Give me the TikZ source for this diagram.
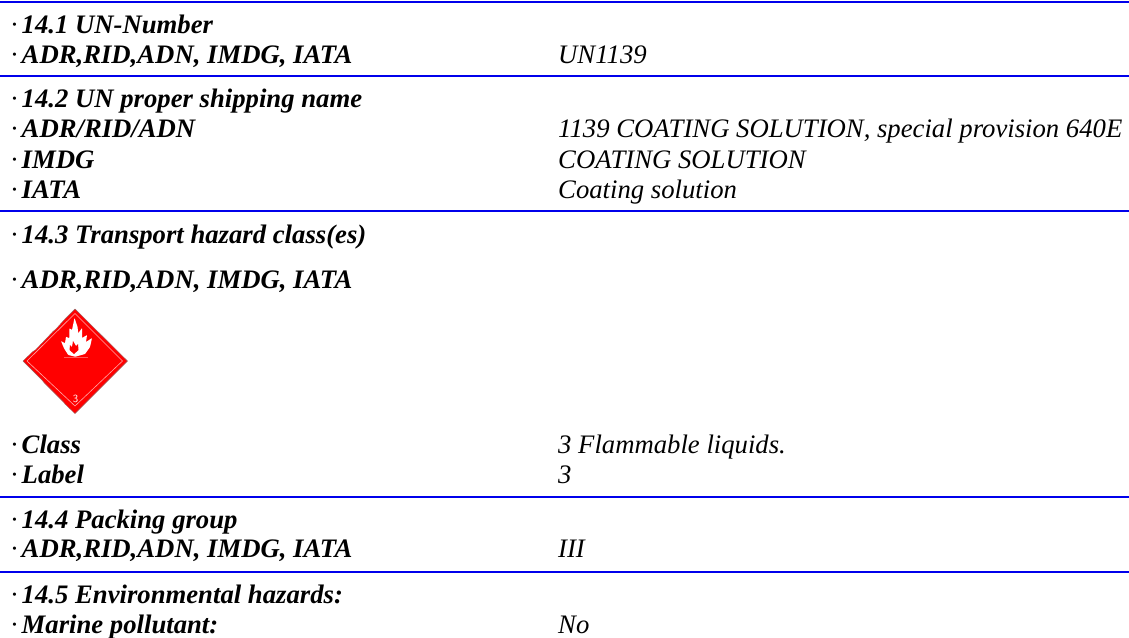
\documentclass[tikz,border=0pt]{standalone}
\usepackage{fontspec}
\setmainfont{Liberation Serif}
\definecolor{rulecol}{RGB}{0,0,235}
\definecolor{hazred}{RGB}{255,0,0}
\definecolor{hazshadow}{RGB}{150,100,100}
\tikzset{
  x=1pt,y=-1pt,
  lab/.style={anchor=base west,inner sep=0pt,font=\fontsize{26.7}{29}\selectfont\bfseries\itshape},
  val/.style={anchor=base west,inner sep=0pt,font=\fontsize{26.7}{29}\selectfont\itshape},
  sep/.style={draw=rulecol,line width=1.6pt}
}
\newcommand{\md}{\makebox[11.5pt][l]{\normalfont\textperiodcentered}}
\begin{document}
\begin{tikzpicture}
\useasboundingbox (0,0) rectangle (1129,637);
\foreach \y in {2,76,211,497,572} \draw[sep] (0,\y) -- (1129,\y);
\node[lab] (a1) at (10,33) {\md 14.1 UN-Number};
\node[lab] (a2) at (10,63) {\md ADR,RID,ADN, IMDG, IATA};
\node[val] (v2) at (558,63) {UN1139};
\node[lab] (b1) at (10,107) {\md 14.2 UN proper shipping name};
\node[lab] (b2) at (10,137) {\md ADR/RID/ADN};
\node[val] (w2) at (558,137) {1139 COATING SOLUTION, special provision 640E};
\node[lab] (b3) at (10,168) {\md IMDG};
\node[val] (w3) at (558,168) {COATING SOLUTION};
\node[lab] (b4) at (10,198) {\md IATA};
\node[val] (w4) at (558,198) {Coating solution};
\node[lab] (c1) at (10,243) {\md 14.3 Transport hazard class(es)};
\node[lab] (c2) at (10,288) {\md ADR,RID,ADN, IMDG, IATA};
\node[lab] (c3) at (10,453) {\md Class};
\node[val] (x3) at (558,453) {3 Flammable liquids.};
\node[lab] (c4) at (10,483) {\md Label};
\node[val] (x4) at (558,483) {3};
\node[lab] (d1) at (10,528) {\md 14.4 Packing group};
\node[lab] (d2) at (10,557) {\md ADR,RID,ADN, IMDG, IATA};
\node[val] (y2) at (558,557) {III};
\node[lab] (e1) at (10,603) {\md 14.5 Environmental hazards:};
\node[lab] (e2) at (10,633) {\md Marine pollutant:};
\node[val] (z2) at (558,633) {No};
% placard
\fill[hazred,draw=hazshadow,line width=.4pt,line join=round]
  (75,309) -- (127.5,361) -- (75,413.5) -- (65,404) -- (64,402.5) -- (55,393.5) -- (53,391.5) -- (44,382.5) -- (42,380) -- (33,371) -- (23,361)
  -- (33,351.5) -- (36,349.5) -- (44,341) -- (46,339) -- (53,331.5) -- (56,329) -- (65,319) -- cycle;
\draw[white!65!hazred,line width=.6pt] (75,313.5) -- (122.5,361) -- (75,406) -- (27,361) -- cycle;
\fill[white,rounded corners=.6pt] (75.3,356.7) -- (68.3,355) -- (64,348.3) -- (61,341) -- (65,343.3) -- (66,336.7)
  -- (69.3,338.3) -- (69.3,328.3) -- (72,330) -- (74.5,318) -- (77.5,326.7) -- (78.3,333.3) -- (82,328) -- (82,338)
  -- (87,335) -- (86,342) -- (92,338) -- (90,347) -- (85,354) -- cycle;
\fill[hazred] (74,354) -- (69.5,350) -- (70,345) -- (72,347) -- (73,341) -- (76,346) -- (78,344) -- (78.5,350) -- cycle;
\draw[white!35!hazred,line width=.4pt] (64,357.5) -- (88,357.5);
\node[inner sep=0pt,text=white,font=\fontsize{11}{11}\selectfont\sffamily] (three) at (75.5,399) {3};
\end{tikzpicture}
\end{document}
